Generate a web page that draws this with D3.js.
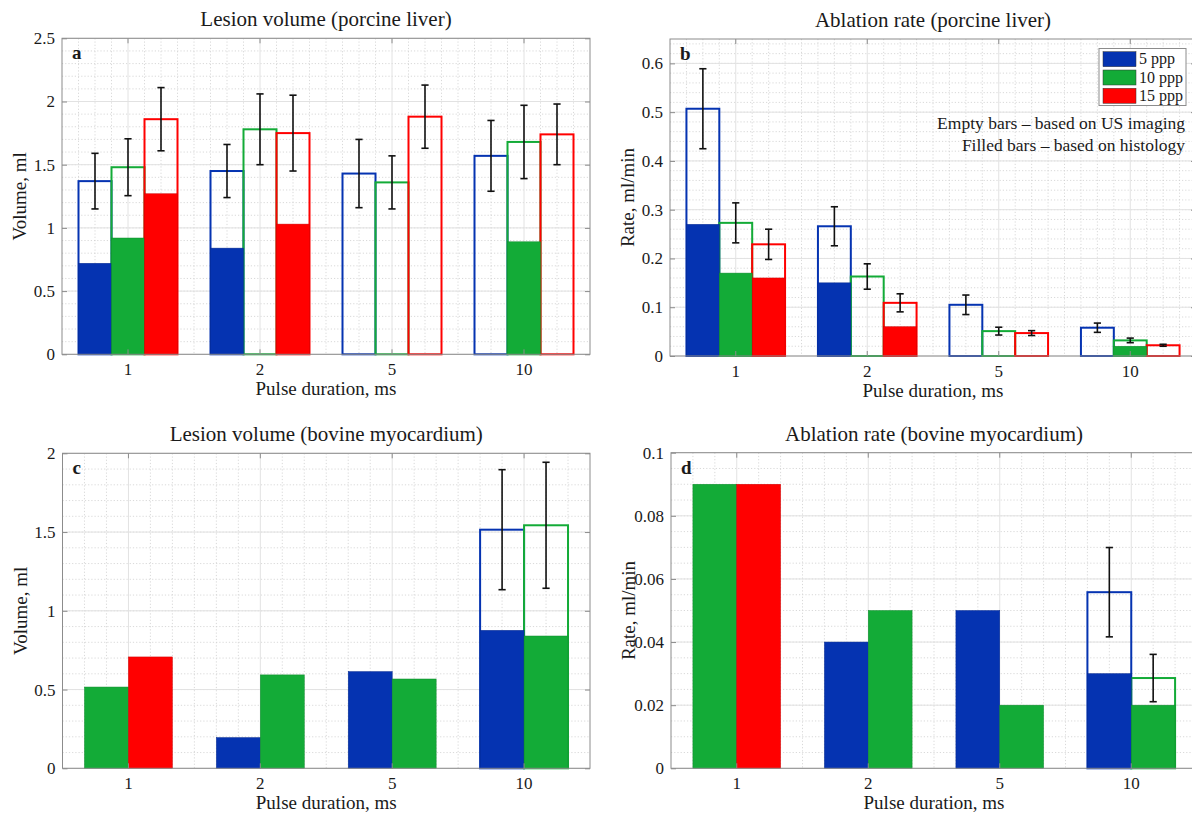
<!DOCTYPE html>
<head>
<meta charset="utf-8">
<title>Lesion volume and ablation rate</title>
<style>
body {
  margin: 0;
  padding: 0;
  background: #fff;
  font-family: "Liberation Serif", "Times New Roman", serif;
}
svg text {
  fill: #1a1a1a;
}
.tick line {
  stroke: #8c8c8c;
}
</style>
</head>
<body>
<svg id="fig" width="1192" height="816"></svg>
<script src="https://d3js.org/d3.v7.min.js"></script>
<script>

var categories = ['1', '2', '5', '10']
var seriesNames = ['5 ppp', '10 ppp', '15 ppp']
var seriesColors = ['#0533b1', '#13ab37', '#ff0000']

// a: lesion volume, porcine liver (rows = pulse duration, cols = 5/10/15 ppp)
var liverSeries = [[0, 1, 2], [0, 1, 2], [0, 1, 2], [0, 1, 2]]
var liverVolUS = [[1.37, 1.48, 1.86], [1.45, 1.78, 1.75], [1.43, 1.36, 1.88], [1.57, 1.68, 1.74]]
var liverVolHist = [[0.72, 0.92, 1.27], [0.84, 0, 1.03], [0, 0, 0], [0, 0.89, 0]]
var liverVolSD = [[0.22, 0.225, 0.25], [0.21, 0.28, 0.30], [0.27, 0.21, 0.25], [0.28, 0.29, 0.24]]

// b: ablation rate, porcine liver
var liverRateUS = [[0.507, 0.273, 0.229], [0.266, 0.163, 0.109], [0.105, 0.051, 0.047], [0.058, 0.032, 0.022]]
var liverRateHist = [[0.27, 0.17, 0.16], [0.15, 0, 0.06], [0, 0, 0], [0, 0.02, 0]]
var liverRateSD = [[0.082, 0.041, 0.031], [0.04, 0.026, 0.0185], [0.02, 0.008, 0.005], [0.0095, 0.0047, 0.002]]

// c, d: bovine myocardium, two series per pulse duration
var myoSeries = [[1, 2], [0, 1], [0, 1], [0, 1]]
var myoVolHist = [[0.516, 0.707], [0.195, 0.593], [0.614, 0.567], [0.876, 0.84]]
var myoVolUS = [[null, null], [null, null], [null, null], [1.515, 1.543]]
var myoVolSD = [[0, 0], [0, 0], [0, 0], [0.381, 0.4]]
var myoRateHist = [[0.09, 0.09], [0.04, 0.05], [0.05, 0.02], [0.03, 0.02]]
var myoRateUS = [[null, null], [null, null], [null, null], [0.0558, 0.0286]]
var myoRateSD = [[0, 0], [0, 0], [0, 0], [0.01415, 0.0075]]

var yTicksA = [0, 0.5, 1, 1.5, 2, 2.5]
var yTicksB = [0, 0.1, 0.2, 0.3, 0.4, 0.5, 0.6]
var yTicksC = [0, 0.5, 1, 1.5, 2]
var yTicksD = [0, 0.02, 0.04, 0.06, 0.08, 0.1]

var panels = [
  { letter: 'a', title: 'Lesion volume (porcine liver)', ylabel: 'Volume, ml',
    left: 62, right: 590, top: 38.3, bottom: 354.3, ymax: 2.5, ticks: yTicksA, minorY: 0.1, minorX: 8,
    series: liverSeries, us: liverVolUS, hist: liverVolHist, sd: liverVolSD, widthFrac: 0.25 },
  { letter: 'b', title: 'Ablation rate (porcine liver)', ylabel: 'Rate, ml/min',
    left: 670, right: 1196, top: 39, bottom: 356, ymax: 0.65, ticks: yTicksB, minorY: 0.02, minorX: 8,
    series: liverSeries, us: liverRateUS, hist: liverRateHist, sd: liverRateSD, widthFrac: 0.25, legend: true },
  { letter: 'c', title: 'Lesion volume (bovine myocardium)', ylabel: 'Volume, ml',
    left: 62.5, right: 590, top: 453.3, bottom: 768.3, ymax: 2, ticks: yTicksC, minorY: 0.1, minorX: 6,
    series: myoSeries, us: myoVolUS, hist: myoVolHist, sd: myoVolSD, widthFrac: 1 / 3 },
  { letter: 'd', title: 'Ablation rate (bovine myocardium)', ylabel: 'Rate, ml/min',
    left: 671, right: 1197, top: 452.7, bottom: 768.3, ymax: 0.1, ticks: yTicksD, minorY: 0.005, minorX: 6,
    series: myoSeries, us: myoRateUS, hist: myoRateHist, sd: myoRateSD, widthFrac: 1 / 3 }
]

var svg = d3.select('#fig')

function fmt(v) {
  return String(+v.toFixed(4))
}

panels.forEach(drawPanel)

function drawPanel(p) {
  var g = svg.append('g')
  var x = d3.scaleBand().domain(categories).range([p.left, p.right]).paddingInner(0).paddingOuter(0)
  var y = d3.scaleLinear().domain([0, p.ymax]).range([p.bottom, p.top])
  var bw = x.bandwidth()

  g.append('rect')
    .attr('x', p.left).attr('y', p.top)
    .attr('width', p.right - p.left).attr('height', p.bottom - p.top)
    .attr('fill', '#fff')

  // minor grid
  var nMinor = Math.round(p.ymax / p.minorY)
  var minorYs = d3.range(1, nMinor).map(function(i) { return i * p.minorY })
  g.append('g').selectAll('line')
    .data(minorYs)
    .enter().append('line')
      .attr('x1', p.left).attr('x2', p.right)
      .attr('y1', function(d) { return y(d) }).attr('y2', function(d) { return y(d) })
      .attr('stroke', '#cfcfcf').attr('stroke-width', 0.8).attr('stroke-dasharray', '1.2,2')

  var minorXs = []
  categories.forEach(function(c, i) {
    for (var k = 0; k < p.minorX; k++) {
      if (k === p.minorX / 2) continue
      if (i === 0 && k === 0) continue
      minorXs.push(x(c) + k * bw / p.minorX)
    }
  })
  g.append('g').selectAll('line')
    .data(minorXs)
    .enter().append('line')
      .attr('x1', function(d) { return d }).attr('x2', function(d) { return d })
      .attr('y1', p.top).attr('y2', p.bottom)
      .attr('stroke', '#cfcfcf').attr('stroke-width', 0.8).attr('stroke-dasharray', '1.2,2')

  // major grid
  g.append('g').selectAll('line')
    .data(p.ticks)
    .enter().append('line')
      .attr('x1', p.left).attr('x2', p.right)
      .attr('y1', function(d) { return y(d) }).attr('y2', function(d) { return y(d) })
      .attr('stroke', '#e2e2e2').attr('stroke-width', 1)
  g.append('g').selectAll('line')
    .data(categories)
    .enter().append('line')
      .attr('x1', function(d) { return x(d) + bw / 2 }).attr('x2', function(d) { return x(d) + bw / 2 })
      .attr('y1', p.top).attr('y2', p.bottom)
      .attr('stroke', '#e2e2e2').attr('stroke-width', 1)

  // bars
  var barW = bw * p.widthFrac
  var bars = []
  categories.forEach(function(c, i) {
    var n = p.series[i].length
    p.series[i].forEach(function(s, j) {
      bars.push({
        cx: x(c) + bw / 2 + (j - (n - 1) / 2) * barW,
        s: s,
        us: p.us[i][j],
        hist: p.hist[i][j],
        sd: p.sd[i][j]
      })
    })
  })

  var withUS = bars.filter(function(d) { return d.us !== null })
  var withHist = bars.filter(function(d) { return d.hist > 0 })

  g.append('g').selectAll('rect')
    .data(withUS)
    .enter().append('rect')
      .attr('x', function(d) { return d.cx - barW / 2 })
      .attr('y', function(d) { return y(d.us) })
      .attr('width', barW)
      .attr('height', function(d) { return y(0) - y(d.us) })
      .attr('fill', 'none')
      .attr('stroke', function(d) { return seriesColors[d.s] })
      .attr('stroke-width', 2)

  g.append('g').selectAll('rect')
    .data(withHist)
    .enter().append('rect')
      .attr('x', function(d) { return d.cx - barW / 2 })
      .attr('y', function(d) { return y(d.hist) })
      .attr('width', barW)
      .attr('height', function(d) { return y(0) - y(d.hist) })
      .attr('fill', function(d) { return seriesColors[d.s] })
      .attr('stroke', function(d) { return d3.color(seriesColors[d.s]).darker(0.6) })
      .attr('stroke-width', 0.5)

  // error bars
  var err = g.append('g').selectAll('g')
    .data(withUS.filter(function(d) { return d.sd > 0 }))
    .enter().append('g')
      .attr('stroke', '#111').attr('stroke-width', 1.6)
  err.append('line')
    .attr('x1', function(d) { return d.cx }).attr('x2', function(d) { return d.cx })
    .attr('y1', function(d) { return y(d.us - d.sd) }).attr('y2', function(d) { return y(d.us + d.sd) })
  err.append('line')
    .attr('x1', function(d) { return d.cx - 3.6 }).attr('x2', function(d) { return d.cx + 3.6 })
    .attr('y1', function(d) { return y(d.us - d.sd) }).attr('y2', function(d) { return y(d.us - d.sd) })
  err.append('line')
    .attr('x1', function(d) { return d.cx - 3.6 }).attr('x2', function(d) { return d.cx + 3.6 })
    .attr('y1', function(d) { return y(d.us + d.sd) }).attr('y2', function(d) { return y(d.us + d.sd) })

  // axes
  var xAxis = g.append('g')
    .attr('transform', 'translate(0,' + p.bottom + ')')
    .call(d3.axisBottom(x).tickSizeInner(-5).tickSizeOuter(0).tickPadding(9))
  var yAxis = g.append('g')
    .attr('transform', 'translate(' + p.left + ',0)')
    .call(d3.axisLeft(y).tickValues(p.ticks).tickFormat(fmt).tickSizeInner(-5).tickSizeOuter(0).tickPadding(7))
  var xTop = g.append('g')
    .attr('transform', 'translate(0,' + p.top + ')')
    .call(d3.axisTop(x).tickSizeInner(-5).tickSizeOuter(0).tickFormat(''))
  var yRight = g.append('g')
    .attr('transform', 'translate(' + p.right + ',0)')
    .call(d3.axisRight(y).tickValues(p.ticks).tickSizeInner(-5).tickSizeOuter(0).tickFormat(''))
  ;[xAxis, yAxis, xTop, yRight].forEach(function(a) {
    a.select('.domain').remove()
    a.selectAll('text')
      .style('font-family', '"Liberation Serif", serif')
      .style('font-size', '17px')
      .attr('fill', '#1a1a1a')
  })

  g.append('rect')
    .attr('x', p.left).attr('y', p.top)
    .attr('width', p.right - p.left).attr('height', p.bottom - p.top)
    .attr('fill', 'none').attr('stroke', '#8c8c8c').attr('stroke-width', 1)

  // texts
  g.append('text')
    .attr('x', (p.left + p.right) / 2).attr('y', p.top - 12)
    .attr('text-anchor', 'middle')
    .style('font-size', '21px')
    .text(p.title)
  g.append('text')
    .attr('x', (p.left + p.right) / 2).attr('y', p.bottom + 41)
    .attr('text-anchor', 'middle')
    .style('font-size', '19px')
    .text('Pulse duration, ms')
  g.append('text')
    .attr('transform', 'translate(' + (p.left - 36) + ',' + ((p.top + p.bottom) / 2) + ') rotate(-90)')
    .attr('text-anchor', 'middle')
    .style('font-size', '19px')
    .text(p.ylabel)
  g.append('text')
    .attr('x', p.left + 10).attr('y', p.top + 21)
    .style('font-size', '19px')
    .style('font-weight', 'bold')
    .text(p.letter)

  if (p.legend) {
    var lg = g.append('g')
    lg.append('rect')
      .attr('x', 1099).attr('y', 48.5).attr('width', 87).attr('height', 57)
      .attr('fill', '#fff').attr('stroke', '#8c8c8c').attr('stroke-width', 1)
    var item = lg.selectAll('g.item')
      .data(seriesNames)
      .enter().append('g')
        .attr('class', 'item')
        .attr('transform', function(d, i) { return 'translate(1103,' + (51.7 + i * 18.3) + ')' })
    item.append('rect')
      .attr('width', 33).attr('height', 15)
      .attr('fill', function(d, i) { return seriesColors[i] })
      .attr('stroke', '#333').attr('stroke-width', 0.5)
    item.append('text')
      .attr('x', 36).attr('y', 12.5)
      .style('font-size', '16px')
      .text(function(d) { return d })

    lg.append('text')
      .attr('x', 1185).attr('y', 129)
      .attr('text-anchor', 'end')
      .style('font-size', '17.5px')
      .text('Empty bars – based on US imaging')
    lg.append('text')
      .attr('x', 1185).attr('y', 151)
      .attr('text-anchor', 'end')
      .style('font-size', '17.5px')
      .text('Filled bars – based on histology')
  }
}

</script>
</body>
</html>
